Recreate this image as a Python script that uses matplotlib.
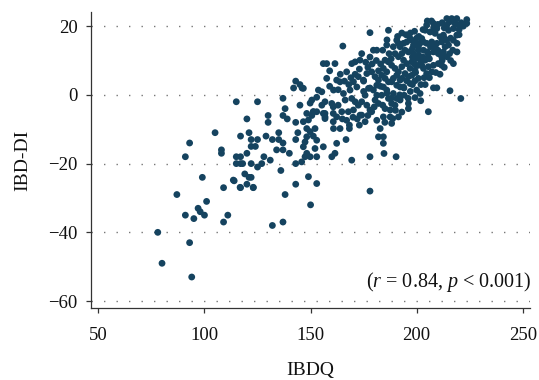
import matplotlib
matplotlib.use("Agg")
import matplotlib.pyplot as plt

plt.rcParams['font.family'] = ['Liberation Serif', 'DejaVu Serif']
plt.rcParams['mathtext.fontset'] = 'custom'
plt.rcParams['mathtext.rm'] = 'Liberation Serif'
plt.rcParams['mathtext.it'] = 'Liberation Serif:italic'

# lower / left part of the cloud
ibdq_low = [78, 80, 94, 93, 87, 91, 95, 97, 98, 100, 101, 99, 91, 93, 105, 108, 108,
            109, 109, 111, 114, 115, 117, 115, 117, 115, 117, 118, 117, 119, 120, 121,
            122, 120, 120, 121, 122, 122, 123, 122, 124, 125, 125, 125, 127, 128, 129,
            130, 130, 131, 132, 132, 134, 135, 135, 136, 137, 137, 138, 139, 137, 137,
            138, 137, 140, 142, 143, 145, 143, 143, 143, 143, 144, 145, 113.6, 116.8,
            123, 146, 150, 178]
ibddi_low = [-40, -49, -53, -43, -29, -35, -36, -33, -34, -35, -31, -24, -18, -14, -11,
             -16, -17, -27, -37, -35, -25, -2, -12, -18, -18, -20, -20, -20, -27, -23,
             -26, -24, -24, -17, -7, -11, -20, -13, -27, -15, -15, -2, -13, -21, -20,
             -18, -12, -6, -8, -19, -38, -13, -16, -11, -13, -22, -1, -6, -4, -7, -14,
             -16, -29, -37, -17, 2, 4, 3, -8, -13, -20, -26, -11, -3, -24.8, -26.9,
             -26.9, 2, -32, -28]

# middle part, 145 < IBDQ < 161
ibdq_mid = [149.8, 150.6, 146.6, 149, 151.3, 148.2, 149.8, 152.1, 151.3, 152.9, 152.1,
            146.6, 147.4, 148.2, 145.8, 147.4, 148.2, 149.8, 152.9, 149, 152.9, 146.6,
            153.7, 152.9, 151.3, 152.9, 155.3, 156.8, 160.7, 160.7, 148.2, 150.6, 160.7,
            156.8]
ibddi_mid = [-2.4, -1.5, -7.8, -7.3, -4.9, -9.8, -10.7, -9.8, -12, -13.2, -15.6, -15.1,
             -13.7, -12.2, -19.5, -18, -17, -18, -18, -23.8, -25.8, 1.9, 1.4, -0.7, -4.9,
             -4.9, -3, -5.4, -3.5, -5.4, -5.4, -6, -7.8, -6.4]

# dense upper band
ibdq_high = [156, 157.6, 157.6, 155.3, 156.8, 156, 156.8, 156,
             161.5, 160.8, 160, 162.3, 163.9, 162.3, 160.8, 163.9, 161.5, 160, 162.3,
             165.2, 167, 165.5, 164.7, 167.8, 166.3, 167, 168.3, 168.3, 166.7, 168.6,
             169.4, 171, 170.2, 171.8, 172.5, 169.4, 171, 172.5, 173.3, 173, 169.4, 170.2,
             174.1, 173.3, 174.9, 176.5, 177.3, 175.7, 174.1, 176.5, 178, 178, 174.1, 175.7,
             178, 179.6, 181.2, 178.8, 180.4, 182, 181.2, 179.6, 181.2, 180.4, 182, 178.8,
             181.2, 182.8, 182,
             185.9, 186.7, 185.1, 186.7, 184.3, 185.9, 183.5, 185.1, 186.7, 184.3, 185.9,
             183.5, 186.7, 185.1, 184.3, 184.3, 184.3, 184.6, 187.5, 187.5,
             190.6, 191.4, 189.8, 191.4, 188.2, 189.8, 191.4, 190.6, 189, 188.2, 190.6,
             192.2, 189, 190.6, 188.2, 189.8, 188.7, 188.2, 190.3, 192.2, 191.4,
             192.2, 193.8, 195.3, 194.5, 193, 196.1, 193.8, 195.3, 193, 196.9, 194.5, 196.1,
             193, 195.3, 194.1, 196.1, 196.1, 193.8, 196.9, 192.2,
             199.2, 198.5, 200.8, 198.5, 200, 197.7, 200.8, 199.2, 197.7, 200.8, 199.2, 200,
             199.2, 201.6, 201.9, 200.8, 196.9,
             202.4, 203.2, 204, 204.7, 204.7, 203.2, 205.5, 204, 202.4, 205.5, 203.2, 204.7,
             205.5, 205.5,
             207.9, 209.5, 206.3, 208.7, 207.1, 209.5, 207.9, 210.2, 210.2, 207.9, 207.1,
             207.9, 209.5, 208.7, 211,
             212.6, 211.8, 214.2, 212.6, 214.2, 211.8, 213.4, 215, 211.8, 214.2, 215.7, 214.2,
             215, 215.7,
             216.5, 218.9, 218.1, 219.7, 217.3, 217.3, 217.3, 218.9,
             223.6, 223.6, 220.8]
ibddi_high = [9.1, 9.1, 4.8, 0.9, -2, -5.4, -6.9, -15.1,
              9.1, 1.4, -2.5, 4.3, 3.8, -6.4, -9.8, -9.8, -17, -18, -14.1,
              14.2, 6.7, 0.4, -4.9, -4.9, -1.5, -7.4, -8.8, -9.8, -13, 1.4,
              9.1, 9.6, 3.8, 2.3, 5.3, -1.05, -2, -3, -5.9, -8.8, -19, -4.4,
              12, 10.1, 4.3, 6.2, 1.9, -0.1, -2, -3, -4.4, -18, -5.9, -7.8,
              18.1, 13, 13, 6.7, 5.3, 4.3, 2.8, 1.4, -0.1, -1.5, -2.5, -4.9,
              -7.4, -9.8, -12.2,
              14.5, 18.8, 10.1, 9.6, 7.7, 6.7, 5.7, 4.8, 3.8, 2.3, 1.4,
              -0.1, -1.05, -4, -6.4, -12.2, -14.1, -17.05, -4.4, -6.4,
              15.9, 15, 12, 11.1, 8.6, 7.7, 6.7, 5.7, 4.8, 3.8, 2.8,
              4.3, 0.4, -1.05, -2.5, -3, -6.9, -8.3, -18, -1.5, -6.4,
              14, 15, 15.4, 13, 12, 12.5, 10.1, 9.1, 8.2, 7.7, 6.2, 5.3,
              4.8, 4.1, -0.1, -2.5, -4, 2.3, 3.3, 2.3,
              15.4, 14.5, 14, 12, 10.6, 9.6, 8.6, 7.2, 5.7, 4.8, 4.1, 1.4,
              -0.8, 0.4, -1.7, 13, 16.4,
              16.4, 15.4, 18.8, 20.3, 15, 13, 12, 10.1, 8.6, 8.2, 7.7, 6.2,
              10.6, -4.9,
              20.8, 19.3, 18.3, 17.9, 15.4, 15, 12.5, 12, 9.1, 8.6, 6.7,
              2.05, 2.05, 14, 16.9,
              17.4, 15.4, 15.9, 12.5, 11.1, 11.1, 14, 14.5, 8.6, 22.2, 21.3, 20.3,
              18.8, 1.2,
              22.2, 22.2, 20.8, 20.3, 19.3, 15.9, 9.1, 17.4,
              21.9, 20.8, -1.05]

# extra points filling the overlapping core of the cloud
ibdq_core = [197, 197.5, 198, 198, 199, 199.5, 201, 201, 202, 203, 203.5, 202, 204,
             205, 206, 206.5, 206, 209, 211, 213, 212, 210, 213, 216, 215.5, 217, 216,
             219, 219, 220, 220, 221, 222, 213, 212, 210, 208, 207, 205, 203, 201.5, 200,
             199, 195, 193, 191, 189, 188, 187, 186, 184, 183, 182, 181, 179, 178, 177,
             176, 175, 173, 171, 169, 168, 166, 164, 163, 159, 159, 175, 178, 183, 186,
             188, 192, 194, 197, 198, 196, 184, 180, 177, 172, 170, 165, 163, 185, 190, 193]
ibddi_core = [18, 16, 13.5, 11, 9, 6.5, 17, 11.5, 10, 11, 5, 3, 3,
              12.5, 10.5, 14, 5, 6.5, 6, 8, 10, 13, 16.5, 16.5, 12, 13, 10,
              15, 12.5, 17.5, 19, 21, 20, 19.5, 21, 20.5, 19.5, 21.5, 21.5, 19, 15, 16.5,
              18.5, 17.5, 18, 17, 14, 10.5, 12, 16, 13, 9, 7, 10, 9, 11, 8,
              9.5, 4, 7.5, 6, 5, 3, 4, 6, 1.5, 7, 2.5, 1, 2, 2.5, 0.5,
              -1, 0, 2, 1, 3, -1, -3, -3.5, -6, -7, -6.5, -7, -3, -8, -4.5, -5]

x_ticks = [50, 100, 150, 200, 250]
y_ticks = [-60, -40, -20, 0, 20]

ibdq = ibdq_low + ibdq_mid + ibdq_high + ibdq_core
ibddi = ibddi_low + ibddi_mid + ibddi_high + ibddi_core

fig = plt.figure(figsize=(5.39, 3.80), dpi=100)
ax = fig.add_axes([0.1683, 0.1887, 0.815, 0.7805])

for yt in y_ticks:
    ax.axhline(yt, color='#777777', lw=1.0, ls=(0, (1, 8)), zorder=0)

ax.scatter(ibdq, ibddi, s=24, color='#15435f', edgecolors='none', zorder=3)

ax.set_xlim(46.4, 253.4)
ax.set_ylim(-62.1, 24.2)
ax.set_xticks(x_ticks)
ax.set_yticks(y_ticks)

for side in ['top', 'right']:
    ax.spines[side].set_visible(False)
for side in ['left', 'bottom']:
    ax.spines[side].set_color('#333333')
    ax.spines[side].set_linewidth(0.9)

ax.tick_params(direction='out', length=3.5, width=0.9, color='#333333',
               labelsize=13.5, labelcolor='#111111')
ax.tick_params(axis='x', pad=10)
ax.tick_params(axis='y', pad=6)

ax.set_xlabel('IBDQ', fontsize=14, color='#111111', labelpad=13)
ax.set_ylabel('IBD-DI', fontsize=14, color='#111111', labelpad=12)

ax.text(1.004, 0.09, r'($\it{r}$ = 0.84, $\it{p}$ < 0.001)', transform=ax.transAxes,
        ha='right', va='center', fontsize=14.5, color='#111111')

fig.savefig('out.png', dpi=100)
